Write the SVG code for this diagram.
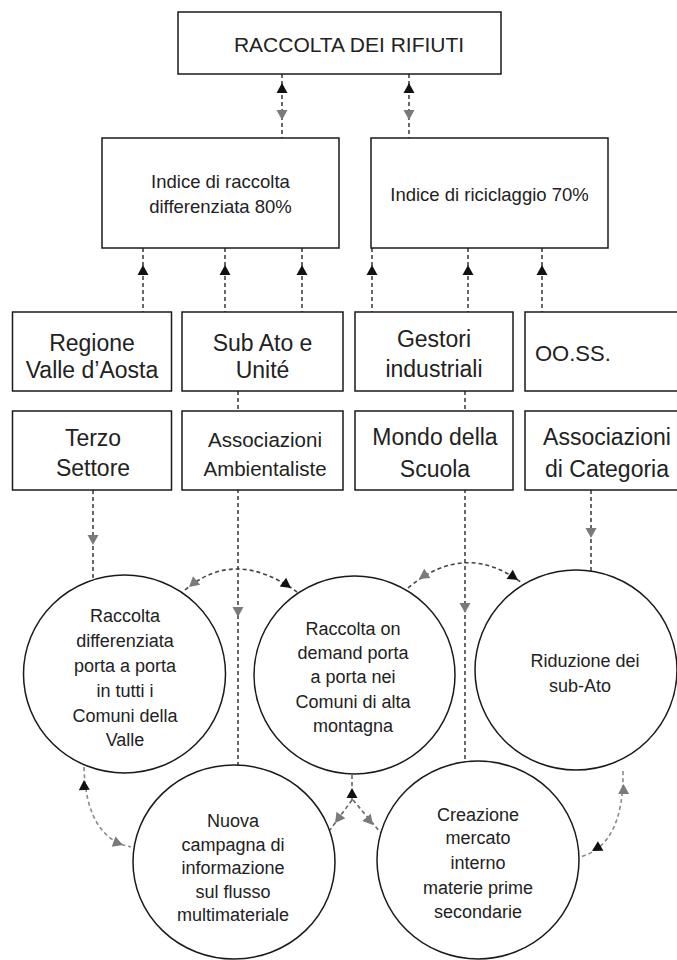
<svg xmlns="http://www.w3.org/2000/svg" xmlns:xlink="http://www.w3.org/1999/xlink" width="677" height="960" viewBox="0 0 677 960">
<style>
.box{fill:#fff;stroke:#1a1a1a;stroke-width:1.5}
.cir{fill:#fff;stroke:#1a1a1a;stroke-width:1.5}
.dash{fill:none;stroke:#444;stroke-width:1.6;stroke-dasharray:4 3}
.lt{stroke:#8a8a8a}
.md{stroke:#666}
.hb{fill:#111}
.hg{fill:#7a7a7a}
text{font-family:"Liberation Sans",Arial,sans-serif;fill:#222;text-anchor:middle}
.t21{font-size:21px}
.t23{font-size:23px}
.t18{font-size:18.5px}
.tc{font-size:18px}
</style>
<defs>
<path id="tri" d="M0,0 L5.5,10 L-5.5,10 Z"/>
</defs>
<rect width="677" height="960" fill="#fff"/>
<g id="connectors">
<path class="dash" d="M282,74 V138"/>
<path class="dash" d="M409,74 V138"/>
<use xlink:href="#tri" class="hb" transform="translate(282,83)"/>
<use xlink:href="#tri" class="hg" transform="translate(282,120) rotate(180)"/>
<use xlink:href="#tri" class="hb" transform="translate(409,83)"/>
<use xlink:href="#tri" class="hg" transform="translate(409,120) rotate(180)"/>
<path class="dash" d="M143,248 V312 M225,248 V312 M302,248 V312 M372,248 V312 M468,248 V312 M542,248 V312"/>
<use xlink:href="#tri" class="hb" transform="translate(143,265)"/>
<use xlink:href="#tri" class="hb" transform="translate(225,265)"/>
<use xlink:href="#tri" class="hb" transform="translate(302,265)"/>
<use xlink:href="#tri" class="hb" transform="translate(372,265)"/>
<use xlink:href="#tri" class="hb" transform="translate(468,265)"/>
<use xlink:href="#tri" class="hb" transform="translate(542,265)"/>
<path class="dash" d="M238,391 V765"/>
<path class="dash" d="M465,391 V762"/>
<path class="dash" d="M93,490 V580"/>
<path class="dash" d="M591,490 V571"/>
<use xlink:href="#tri" class="hg" transform="translate(238,617) rotate(180)"/>
<use xlink:href="#tri" class="hg" transform="translate(465,613) rotate(180)"/>
<use xlink:href="#tri" class="hg" transform="translate(93,545) rotate(180)"/>
<use xlink:href="#tri" class="hg" transform="translate(591,538) rotate(180)"/>
<path class="dash" d="M185,590 Q235,547 297,592"/>
<use xlink:href="#tri" class="hg" transform="translate(189,587) rotate(-130.7)"/>
<use xlink:href="#tri" class="hb" transform="translate(291,588) rotate(126)"/>
<path class="dash" d="M408,588 Q465,540 522,583"/>
<use xlink:href="#tri" class="hg" transform="translate(419,579) rotate(-124)"/>
<use xlink:href="#tri" class="hb" transform="translate(518,580) rotate(124)"/>
<path class="dash lt" d="M84,767 Q86,838 131,847"/>
<use xlink:href="#tri" class="hb" transform="translate(84,780) rotate(-1.6)"/>
<use xlink:href="#tri" class="hg" transform="translate(123,845) rotate(110)"/>
<path class="dash lt" d="M623,771 Q624,845 580,857"/>
<use xlink:href="#tri" class="hg" transform="translate(623.5,784) rotate(-0.8)"/>
<use xlink:href="#tri" class="hb" transform="translate(592,851) rotate(-120)"/>
<path class="dash md" d="M352,800 V775 M352,800 L330,830 M353,800 L381,833"/>
<use xlink:href="#tri" class="hb" transform="translate(352,788)"/>
<use xlink:href="#tri" class="hg" transform="translate(335,823) rotate(-143.7)"/>
<use xlink:href="#tri" class="hg" transform="translate(373,825) rotate(139.7)"/>
</g>
<g id="raccolta">
<rect class="box" x="178" y="12" width="323" height="62"/>
<text class="t21" x="349" y="52">RACCOLTA DEI RIFIUTI</text>
</g>
<g id="indice-raccolta">
<rect class="box" x="102" y="138" width="237" height="110"/>
<text class="t18" x="220.5" y="188">Indice di raccolta</text>
<text class="t18" x="220.5" y="213">differenziata 80%</text>
</g>
<g id="indice-riciclaggio">
<rect class="box" x="371" y="138" width="237" height="110"/>
<text class="t18" x="489.5" y="201">Indice di riciclaggio 70%</text>
</g>
<g id="regione">
<rect class="box" x="12.5" y="312" width="159" height="79"/>
<text class="t23" x="92" y="351">Regione</text>
<text class="t23" x="92" y="378">Valle d’Aosta</text>
</g>
<g id="subato">
<rect class="box" x="182" y="312" width="161" height="79"/>
<text class="t23" x="262.5" y="351">Sub Ato e</text>
<text class="t23" x="262.5" y="378">Unité</text>
</g>
<g id="gestori">
<rect class="box" x="355" y="312" width="158" height="79"/>
<text class="t23" x="434" y="347">Gestori</text>
<text class="t23" x="434" y="377">industriali</text>
</g>
<g id="ooss">
<rect class="box" x="525" y="312" width="160" height="79"/>
<text x="535" y="361" style="font-size:22px;text-anchor:start">OO.SS.</text>
</g>
<g id="terzo-settore">
<rect class="box" x="12.5" y="411" width="159" height="79"/>
<text class="t23" x="93" y="446">Terzo</text>
<text class="t23" x="93" y="476">Settore</text>
</g>
<g id="ass-ambientaliste">
<rect class="box" x="182" y="411" width="161" height="79"/>
<text x="265" y="447" style="font-size:20.5px">Associazioni</text>
<text x="265" y="476" style="font-size:20.5px">Ambientaliste</text>
</g>
<g id="scuola">
<rect class="box" x="355" y="411" width="158" height="79"/>
<text class="t23" x="435" y="445">Mondo della</text>
<text class="t23" x="435" y="477">Scuola</text>
</g>
<g id="ass-categoria">
<rect class="box" x="525" y="411" width="160" height="79"/>
<text class="t23" x="607" y="445">Associazioni</text>
<text class="t23" x="607" y="477">di Categoria</text>
</g>
<g id="c-porta-a-porta">
<ellipse class="cir" cx="124.5" cy="674" rx="101" ry="99"/>
<text class="tc" x="125" y="622">Raccolta</text>
<text class="tc" x="125" y="647">differenziata</text>
<text class="tc" x="125" y="672">porta a porta</text>
<text class="tc" x="125" y="697">in tutti i</text>
<text class="tc" x="125" y="722">Comuni della</text>
<text class="tc" x="125" y="746">Valle</text>
</g>
<g id="c-on-demand">
<ellipse class="cir" cx="354.5" cy="675" rx="100.5" ry="99"/>
<text class="tc" x="353" y="635">Raccolta on</text>
<text class="tc" x="353" y="659">demand porta</text>
<text class="tc" x="353" y="683">a porta nei</text>
<text class="tc" x="353" y="708">Comuni di alta</text>
<text class="tc" x="353" y="732">montagna</text>
</g>
<g id="c-riduzione">
<ellipse class="cir" cx="576" cy="670" rx="101" ry="100"/>
<text class="tc" x="585" y="667">Riduzione dei</text>
<text class="tc" x="580" y="692">sub-Ato</text>
</g>
<g id="c-campagna">
<ellipse class="cir" cx="234" cy="862" rx="101" ry="97"/>
<text class="tc" x="233" y="827">Nuova</text>
<text class="tc" x="233" y="851">campagna di</text>
<text class="tc" x="233" y="874">informazione</text>
<text class="tc" x="233" y="898">sul flusso</text>
<text class="tc" x="233" y="921">multimateriale</text>
</g>
<g id="c-mercato">
<ellipse class="cir" cx="478" cy="860" rx="101" ry="99"/>
<text class="tc" x="478" y="821">Creazione</text>
<text class="tc" x="478" y="844">mercato</text>
<text class="tc" x="478" y="869">interno</text>
<text class="tc" x="478" y="894">materie prime</text>
<text class="tc" x="478" y="918">secondarie</text>
</g>
</svg>
